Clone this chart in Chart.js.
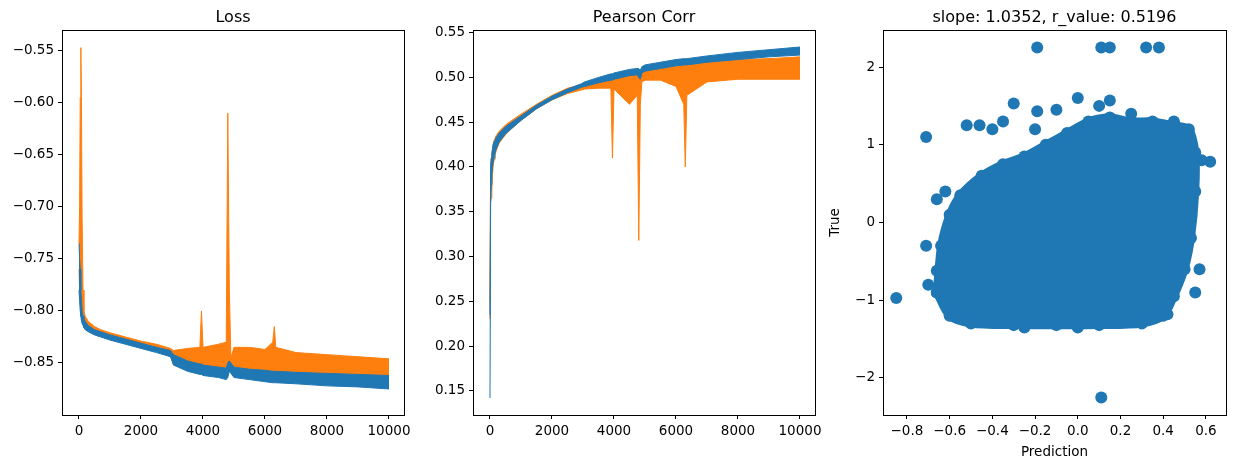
<!DOCTYPE html>
<html><head><meta charset="utf-8">
<script src="https://cdn.jsdelivr.net/npm/chart.js@4"></script>
<style>body{margin:0;background:#fff}canvas{position:absolute;left:0;top:0}</style>
</head><body>
<canvas id="c1" width="1234" height="468"></canvas>
<canvas id="c2" width="1234" height="468"></canvas>
<canvas id="c3" width="1234" height="468"></canvas>
<script>
const steps = [0,20,40,60,80,100,130,160,200,300,500,700,1000,1500,2000,2500,2950,3050,3500,3900,3950,4000,4500,4750,4800,4850,4900,5000,5500,6000,6250,6300,6350,7000,8000,9000,10000];
const lossTrainLo = [-0.78,-0.79,-0.80,-0.805,-0.81,-0.812,-0.814,-0.816,-0.818,-0.82,-0.823,-0.825,-0.828,-0.832,-0.836,-0.84,-0.844,-0.852,-0.858,-0.861,-0.861,-0.862,-0.864,-0.866,-0.864,-0.858,-0.86,-0.864,-0.866,-0.868,-0.869,-0.869,-0.869,-0.87,-0.872,-0.873,-0.875];
const lossTrainHi = [-0.735,-0.75,-0.76,-0.78,-0.79,-0.80,-0.805,-0.808,-0.81,-0.814,-0.818,-0.82,-0.823,-0.827,-0.831,-0.835,-0.838,-0.842,-0.848,-0.851,-0.851,-0.852,-0.854,-0.855,-0.85,-0.848,-0.85,-0.854,-0.856,-0.857,-0.858,-0.858,-0.858,-0.859,-0.86,-0.861,-0.862];
const lossValLo = [-0.76,-0.78,-0.79,-0.80,-0.805,-0.808,-0.81,-0.812,-0.815,-0.818,-0.821,-0.823,-0.826,-0.83,-0.834,-0.838,-0.842,-0.852,-0.855,-0.856,-0.856,-0.856,-0.857,-0.858,-0.858,-0.852,-0.856,-0.858,-0.86,-0.86,-0.86,-0.86,-0.86,-0.861,-0.861,-0.862,-0.863];
const lossValHi = [-0.735,-0.70,-0.595,-0.547,-0.60,-0.71,-0.78,-0.80,-0.805,-0.81,-0.815,-0.818,-0.821,-0.825,-0.829,-0.832,-0.836,-0.838,-0.836,-0.835,-0.80,-0.835,-0.832,-0.83,-0.61,-0.78,-0.845,-0.835,-0.835,-0.837,-0.83,-0.815,-0.835,-0.84,-0.842,-0.844,-0.846];
const corrTrainLo = [0.142,0.36,0.38,0.39,0.40,0.405,0.41,0.415,0.42,0.428,0.437,0.443,0.452,0.465,0.475,0.483,0.489,0.49,0.494,0.497,0.497,0.498,0.502,0.503,0.50,0.498,0.505,0.507,0.51,0.513,0.514,0.514,0.514,0.517,0.52,0.523,0.525];
const corrTrainHi = [0.235,0.40,0.41,0.415,0.42,0.425,0.428,0.43,0.433,0.438,0.445,0.45,0.457,0.469,0.479,0.487,0.493,0.495,0.50,0.504,0.504,0.505,0.509,0.51,0.51,0.508,0.512,0.514,0.517,0.52,0.521,0.521,0.521,0.524,0.528,0.531,0.534];
const corrValLo = [0.23,0.36,0.365,0.375,0.39,0.40,0.408,0.413,0.418,0.427,0.436,0.443,0.452,0.465,0.475,0.482,0.486,0.487,0.488,0.488,0.41,0.487,0.47,0.48,0.318,0.47,0.495,0.497,0.497,0.49,0.47,0.40,0.48,0.495,0.498,0.498,0.498];
const corrValHi = [0.25,0.40,0.41,0.415,0.42,0.425,0.43,0.432,0.435,0.44,0.447,0.452,0.459,0.47,0.48,0.488,0.492,0.494,0.497,0.499,0.499,0.50,0.503,0.505,0.505,0.505,0.508,0.51,0.513,0.515,0.516,0.516,0.516,0.518,0.52,0.521,0.523];
const blobPred = [-0.66,-0.64,-0.60,-0.55,-0.45,-0.35,-0.25,-0.15,-0.05,0.05,0.15,0.25,0.35,0.45,0.52,0.55,0.55,0.53,0.50,0.45,0.40,0.30,0.10,-0.10,-0.30,-0.50,-0.60,-0.66];
const blobTrue = [-0.9,-0.3,0.1,0.35,0.6,0.75,0.85,1.0,1.15,1.3,1.35,1.3,1.3,1.25,1.2,0.9,0.4,-0.2,-0.6,-0.95,-1.2,-1.3,-1.32,-1.32,-1.32,-1.3,-1.2,-0.9];
const outPred = [-0.85,-0.71,-0.71,-0.19,0.11,0.15,0.32,0.38,0.11,0.62,0.58,-0.52,-0.46,-0.30,-0.19,0.0,0.10,0.15,-0.35,-0.20,-0.62,-0.66,0.57,0.55,0.42,0.35,-0.66,-0.70,-0.40,-0.10,0.25,0.45,-0.25,0.0];
const outTrue = [-0.97,1.1,-0.3,2.25,2.25,2.25,2.25,2.25,-2.25,0.78,0.8,1.25,1.25,1.53,1.43,1.6,1.5,1.57,1.3,1.2,0.4,0.3,-0.6,-0.9,-1.18,-1.0,-0.62,-0.8,1.2,1.45,1.4,1.3,-1.35,-1.35];
const lossTicks = [-0.85,-0.80,-0.75,-0.70,-0.65,-0.60,-0.55];
const corrTicks = [0.15,0.20,0.25,0.30,0.35,0.40,0.45,0.50,0.55];
const stepTicks = [0,2000,4000,6000,8000,10000];
const predTicks = [-0.8,-0.6,-0.4,-0.2,0.0,0.2,0.4,0.6];
const trueTicks = [-2,-1,0,1,2];

const BLUE='#1f77b4', ORANGE='#ff7f0e';
const FONT='DejaVu Sans';
Chart.defaults.font.family=FONT; Chart.defaults.font.size=13.5; Chart.defaults.color='#000';
const pts=(xs,ys)=>xs.map((x,i)=>({x,y:ys[i]}));
const minus=s=>String(s).replace('-','\u2212');
function frame(title){return {id:'frame',afterDraw(c){const a=c.chartArea,ctx=c.ctx;ctx.save();ctx.strokeStyle='#000';ctx.lineWidth=1;ctx.strokeRect(Math.round(a.left)+0.5,Math.round(a.top)+0.5,Math.round(a.right-a.left),Math.round(a.bottom-a.top));ctx.fillStyle='#000';ctx.font='16px '+FONT;ctx.textAlign='center';ctx.textBaseline='alphabetic';ctx.fillText(title,(a.left+a.right)/2,a.top-8);ctx.restore();}};}
function axis(min,max,ticks,fmt,extra){return Object.assign({type:'linear',min,max,
  afterBuildTicks:s=>{s.ticks=ticks.map(v=>({value:v}));},
  ticks:{callback:v=>minus(fmt(v)),autoSkip:false,maxRotation:0,padding:4,color:'#000'},
  grid:{display:true,drawOnChartArea:false,tickLength:4,color:'#000'},
  border:{display:true,color:'#000'}},extra||{});}
function band(lo,hi,color){return [
  {data:pts(steps,lo),borderColor:color,borderWidth:1,pointRadius:0,fill:false,tension:0},
  {data:pts(steps,hi),borderColor:color,borderWidth:1,pointRadius:0,fill:'-1',backgroundColor:color,tension:0}];}
function make(id,L,R,datasets,xs,ys,title,xTitleH){
  xs.afterFit=s=>{s.height=xTitleH?50:28;};
  ys.afterFit=s=>{s.width=60;};
  new Chart(document.getElementById(id),{type:'scatter',data:{datasets},
    options:{responsive:false,animation:false,events:[],
      layout:{padding:{left:L-60,right:1234-R,top:30,bottom:468-415-(xTitleH?50:28)}},
      plugins:{legend:{display:false},tooltip:{enabled:false}},
      scales:{x:xs,y:ys}},plugins:[frame(title)]});
}
make('c1',62,404,[...band(lossTrainLo,lossTrainHi,BLUE),...band(lossValLo,lossValHi,ORANGE)].map(d=>Object.assign(d,{showLine:true})),
  axis(-548,10484,stepTicks,v=>v),axis(-0.9,-0.53,lossTicks,v=>v.toFixed(2)),'Loss');
make('c2',473,815,[...band(corrTrainLo,corrTrainHi,BLUE),...band(corrValLo,corrValHi,ORANGE)].map(d=>Object.assign(d,{showLine:true})),
  axis(-548,10484,stepTicks,v=>v),axis(0.123,0.553,corrTicks,v=>v.toFixed(2)),'Pearson Corr');
make('c3',883,1226,[
  {data:pts(blobPred,blobTrue),showLine:true,fill:'shape',backgroundColor:BLUE,borderColor:BLUE,borderWidth:8,pointRadius:6,pointBackgroundColor:BLUE,pointBorderWidth:0,tension:0.3},
  {data:pts(outPred,outTrue),showLine:false,pointRadius:6,pointBackgroundColor:BLUE,pointBorderWidth:0}],
  axis(-0.912,0.694,predTicks,v=>v.toFixed(1),{title:{display:true,text:'Prediction',font:{size:13.5},padding:{top:2}}}),
  axis(-2.476,2.476,trueTicks,v=>v.toFixed(0),{title:{display:true,text:'True',font:{size:13.5},padding:{bottom:6}}}),
  'slope: 1.0352, r_value: 0.5196',true);
</script></body></html>
